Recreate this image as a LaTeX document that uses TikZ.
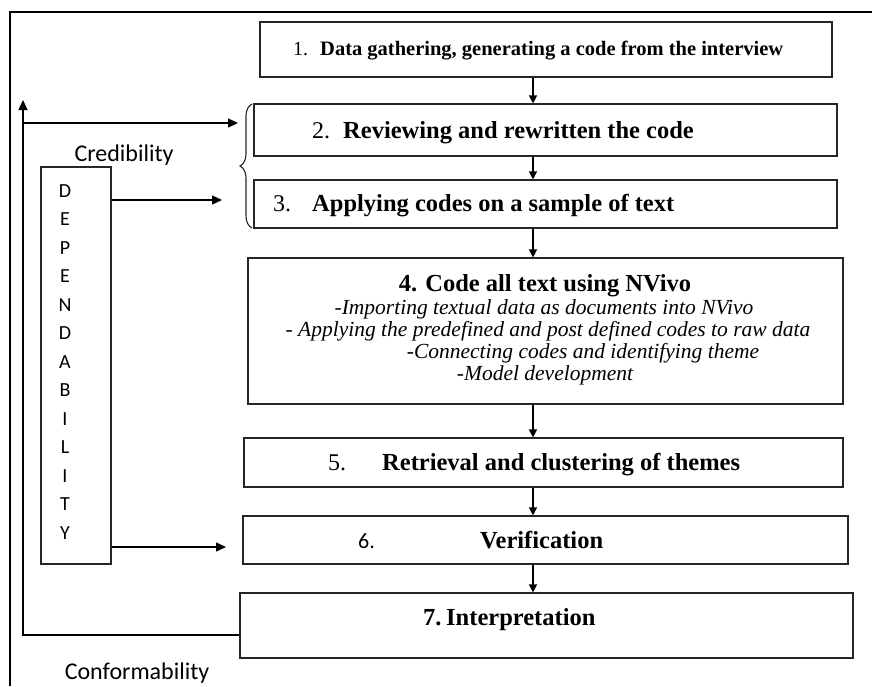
\documentclass[tikz,border=0pt]{standalone}
\usepackage{fontspec}
\setmainfont{Liberation Serif}
\newfontfamily\calib{Carlito}
\usetikzlibrary{arrows.meta,decorations.pathreplacing}
\tikzset{
  box/.style={draw=black!85, line width=1.2pt, rectangle, inner sep=0pt},
  arr/.style={draw=black, line width=1.4pt, -{Triangle[length=10pt,width=9pt]}},
  varr/.style={draw=black, line width=1.4pt, -{Triangle[length=8pt,width=8pt]}},
  lbl/.style={inner sep=0pt, anchor=base west},
  ctr/.style={inner sep=0pt, anchor=base},
  bigb/.style={font=\fontsize{24.5}{28}\selectfont\bfseries},
  bign/.style={font=\fontsize{24}{28}\selectfont},
  ital/.style={inner sep=0pt, anchor=base, font=\fontsize{21.5}{24}\selectfont\itshape},
  sans/.style={inner sep=0pt, anchor=base, font=\fontsize{24}{28}\calib},
  letter/.style={inner sep=0pt, anchor=base, font=\fontsize{20}{24}\calib},
}
\begin{document}
\begin{tikzpicture}[x=1pt,y=-1pt]
\useasboundingbox (0,0) rectangle (872,686);
% outer frame
\coordinate (fa) at (10,686);
\coordinate (fb) at (10,12);
\coordinate (fc) at (872,12);
\draw[line width=1.3pt] (fa) -- (fb) -- (fc);

% boxes
\node[box, minimum width=572pt, minimum height=55pt] (b1) at (546,49.5) {};
\node[box, minimum width=583pt, minimum height=52pt] (b2) at (545.5,130) {};
\node[box, minimum width=583pt, minimum height=48pt] (b3) at (545.5,204) {};
\node[box, minimum width=595pt, minimum height=146pt] (b4) at (545.5,331) {};
\node[box, minimum width=599pt, minimum height=49pt] (b5) at (543.5,462.5) {};
\node[box, minimum width=605pt, minimum height=48pt] (b6) at (545.5,540) {};
\node[box, minimum width=613pt, minimum height=65pt] (b7) at (546.5,625.5) {};
\node[box, minimum width=70pt, minimum height=397pt] (dep) at (76,365.5) {};

% texts
\node[lbl, font=\fontsize{20}{24}\selectfont] (t1n) at (293,55) {1.};
\node[lbl, font=\fontsize{20.5}{24}\selectfont\bfseries] (t1) at (320,55) {Data gathering, generating a code from the interview};
\node[lbl, bign] (t2n) at (312,138) {2.};
\node[lbl, bigb] (t2) at (343,138) {Reviewing and rewritten the code};
\node[lbl, bign] (t3n) at (273,211) {3.};
\node[lbl, bigb] (t3) at (312,211) {Applying codes on a sample of text};
\node[ctr, bigb] (t4) at (545,291) {4. Code all text using NVivo};
\node[ital] (t4a) at (544,314) {-Importing textual data as documents into NVivo};
\node[ital] (t4b) at (548,336) {- Applying the predefined and post defined codes to raw data};
\node[ital] (t4c) at (583,358) {-Connecting codes and identifying theme};
\node[ital] (t4d) at (545,380) {-Model development};
\node[lbl, bign] (t5n) at (328,470) {5.};
\node[lbl, bigb] (t5) at (382,470) {Retrieval and clustering of themes};
\node[lbl, font=\fontsize{22}{26}\calib] (t6n) at (358,548) {6.};
\node[lbl, bigb] (t6) at (480,548) {Verification};
\node[lbl, bigb] (t7n) at (423,625) {7.};
\node[lbl, bigb] (t7) at (446,625) {Interpretation};

\node[sans] (cred) at (124,161) {Credibility};
\node[sans] (conf) at (137,679) {Conformability};

% dependability letters
\foreach \ch [count=\i from 0] in {D,E,P,E,N,D,A,B,I,L,I,T,Y}{
  \node[letter] (d\i) at (65,{197+28.5*\i}) {\ch};
}

% main vertical arrows
\coordinate (spine) at (533,0);
\draw[varr] (b1.south -| spine) -- (b2.north -| spine);
\draw[varr] (b2.south -| spine) -- (b3.north -| spine);
\draw[varr] (b3.south -| spine) -- (b4.north -| spine);
\draw[varr] (b4.south -| spine) -- (b5.north -| spine);
\draw[varr] (b5.south -| spine) -- (b6.north -| spine);
\draw[varr] (b6.south -| spine) -- (b7.north -| spine);

% brace
\coordinate (brA) at (252,228);
\coordinate (brB) at (252,104);
\draw[line width=1.1pt, black!85, decorate, decoration={brace, amplitude=12pt}] (brA) -- (brB);

% feedback loop
\coordinate (fbcorner) at (23,635);
\coordinate (fbtop) at (23,100);
\coordinate (fbjoin) at (23,123);
\coordinate (to2) at (238,123);
\draw[arr] (b7.west |- fbcorner) -- (fbcorner) -- (fbtop);
\draw[arr] (fbjoin) -- (to2);

% dependability arrows
\coordinate (to3) at (222,200);
\coordinate (to6) at (226,547);
\draw[arr] (dep.east |- to3) -- (to3);
\draw[arr] (dep.east |- to6) -- (to6);
\end{tikzpicture}
\end{document}
